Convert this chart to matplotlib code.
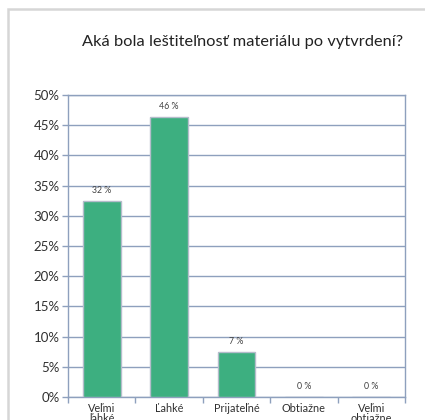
import matplotlib.pyplot as plt
import matplotlib.patches as patches
from matplotlib.ticker import MultipleLocator, FuncFormatter

# data
categories = ["Veľmi\nľahké", "Ľahké", "Prijateľné", "Obtiažne", "Veľmi\nobtiažne"]
values = [32.4, 46.4, 7.4, 0.0, 0.0]
value_labels = ["32 %", "46 %", "7 %", "0 %", "0 %"]
title = "Aká bola leštiteľnosť materiálu po vytvrdení?"

plt.rcParams["font.family"] = ["Lato", "DejaVu Sans"]

fig = plt.figure(figsize=(4.25, 4.2), dpi=100)
fig.patch.set_facecolor("white")

# outer light frame
fig.add_artist(patches.Rectangle((8 / 425, -0.2), 1.2, 1.2 - 9 / 420,
                                 transform=fig.transFigure, fill=False,
                                 edgecolor="#d6d6d6", linewidth=1.8))

ax = fig.add_axes([68 / 425, 23 / 420, 337 / 425, 302 / 420])

grid_col = "#8ea0bd"
x = range(len(categories))
bars = ax.bar(x, values, width=0.56, color="#3daf80",
              edgecolor="#b4bccb", linewidth=1.0, zorder=3)

for bar, lab in zip(bars, value_labels):
    ax.text(bar.get_x() + bar.get_width() / 2, bar.get_height() + 1.0, lab,
            ha="center", va="bottom", fontsize=6.3, color="#404040")

ax.set_xlim(-0.5, len(categories) - 0.5)
ax.set_ylim(0, 50)
ax.yaxis.set_major_locator(MultipleLocator(5))
ax.yaxis.set_major_formatter(FuncFormatter(lambda v, p: f"{v:.0f}%"))
ax.yaxis.grid(True, color=grid_col, linewidth=1.0, zorder=0)
ax.set_axisbelow(True)

ax.set_xticks([i - 0.5 for i in range(len(categories) + 1)], minor=False)
ax.set_xticklabels([])
ax.set_xticks(list(x), minor=True)
ax.set_xticklabels(categories, minor=True, fontsize=7.8, color="#303030",
                   linespacing=0.95)
ax.tick_params(axis="x", which="minor", length=0, pad=4)
ax.tick_params(axis="x", which="major", length=4, color=grid_col, width=1)
ax.tick_params(axis="y", length=4, color=grid_col, width=1,
               labelsize=9.5, labelcolor="#303030", pad=2)

for s in ["left", "right", "bottom", "top"]:
    ax.spines[s].set_color(grid_col)
    ax.spines[s].set_linewidth(1.0)

fig.text(243 / 425, 1 - 42 / 420, title, ha="center", va="center",
         fontsize=11.8, color="#222222")

fig.savefig("out.png", dpi=100)
